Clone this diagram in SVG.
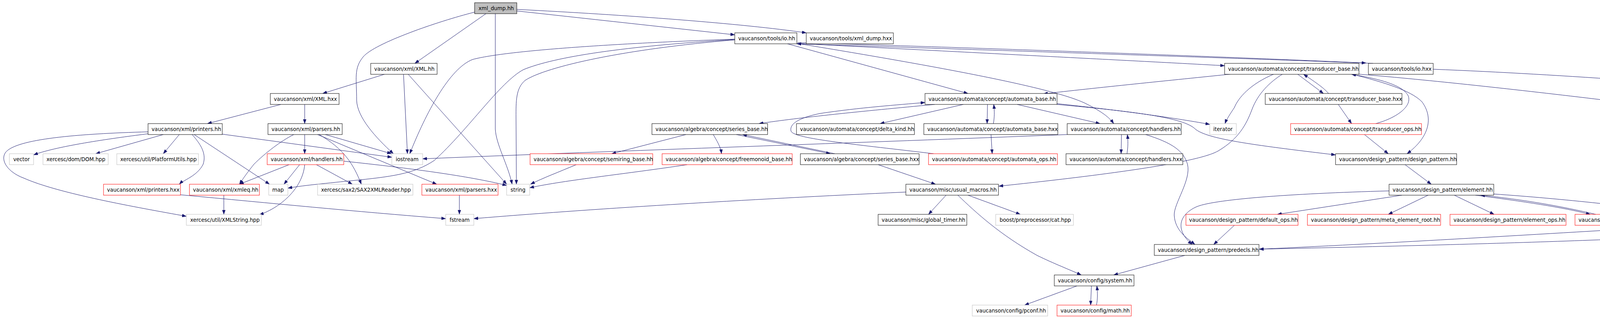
<svg xmlns="http://www.w3.org/2000/svg" width="4725" height="813" viewBox="0 0 4725 813">
<style>
rect{fill:#fff;stroke-width:1}
.n rect{stroke:#000}
.g rect{stroke:#bfbfbf}
.r rect{stroke:#ff0000}
.root rect{fill:#bfbfbf;stroke:#000}
text{font-family:"DejaVu Sans","Liberation Sans",sans-serif;font-size:13.3px;fill:#000}
#edges path{fill:none;stroke:#191970;stroke-width:1;marker-end:url(#ah)}
</style>
<defs>
<marker id="ah" markerUnits="userSpaceOnUse" markerWidth="11" markerHeight="8" refX="11" refY="4" orient="auto">
<path d="M0,0 L11,4 L0,8 z" fill="#191970" stroke="#191970" stroke-width="0.5"/>
</marker>
</defs>
<rect x="0" y="0" width="4725" height="813" style="fill:#fff;stroke:none"/>
<g id="edges">
<path d="M1215,31 C1120,55 960,110 930,145 C905,175 913,200 913,257 C915,300 960,350 1007,393"/>
<path d="M1244,35 L1062,162"/>
<path d="M1268,35 L1268,330 C1270,370 1300,420 1311,471"/>
<path d="M1323,28 L1881,89"/>
<path d="M1323,24 C1600,38 1900,60 2064,84"/>
<path d="M984,190 L826,239"/>
<path d="M1033,190 L1043,393"/>
<path d="M1045,190 L1297,471"/>
<path d="M719,267 L531,316"/>
<path d="M780,267 L780,316"/>
<path d="M379,342 C300,352 150,372 86,396"/>
<path d="M379,337 C200,342 40,355 14,390 C0,410 20,440 60,455 C150,495 350,530 477,553"/>
<path d="M418,344 L245,393"/>
<path d="M459,344 L418,393"/>
<path d="M492,344 C510,365 530,390 520,420 C505,450 470,460 459,471"/>
<path d="M497,344 L690,471"/>
<path d="M569,343 L1003,402"/>
<path d="M780,344 L780,393"/>
<path d="M752,344 C720,360 680,390 650,420 C630,445 620,460 613,471"/>
<path d="M833,344 L1002,393"/>
<path d="M817,344 C880,380 905,420 925,471"/>
<path d="M813,344 L1118,471"/>
<path d="M740,421 L613,471"/>
<path d="M767,421 L727,471"/>
<path d="M780,421 C775,480 720,530 664,549"/>
<path d="M810,421 L902,471"/>
<path d="M880,412 C1050,430 1200,450 1297,474"/>
<path d="M462,498 C700,520 900,540 1141,559"/>
<path d="M573,499 L573,548"/>
<path d="M1176,499 L1176,548"/>
<path d="M1881,100 C1600,110 1300,128 1210,152 C1150,175 1090,290 1049,393"/>
<path d="M1881,101 C1600,118 1420,145 1340,178 C1280,210 1200,330 1112,410 C1060,445 1000,452 900,462 C820,470 770,475 737,481"/>
<path d="M1881,102 C1600,125 1400,170 1345,205 C1320,225 1321,260 1321,300 L1322,471"/>
<path d="M2016,112 L2478,239"/>
<path d="M2053,113 C2400,170 2700,225 2780,265 C2820,285 2840,300 2851,316"/>
<path d="M2040,111 C2500,135 2900,155 3135,168"/>
<path d="M2042,109 C2600,125 3200,148 3497,161"/>
<path d="M3515,162 C3200,150 2600,130 2040,112"/>
<path d="M3669,177 C4000,190 4400,220 4646,245"/>
<path d="M3156,189 C3000,205 2800,225 2671,240"/>
<path d="M3321,189 L3388,239"/>
<path d="M3401,239 C3390,225 3360,205 3337,190"/>
<path d="M3262,189 C3200,215 3170,250 3160,275 C3150,290 3140,305 3136,316"/>
<path d="M3284,189 C3250,210 3220,240 3205,280 C3190,320 3170,355 3120,385 C3080,410 2900,440 2557,476"/>
<path d="M3463,190 C3540,210 3610,230 3640,260 C3670,300 3660,350 3602,393"/>
<path d="M3522,316 C3580,300 3615,270 3605,245 C3590,215 3520,200 3460,190"/>
<path d="M3470,189 C3800,215 4400,290 4580,318 C4600,322 4608,330 4608,340 L4608,513 C4608,560 4590,575 4548,588 C4300,610 3800,625 3224,637"/>
<path d="M3426,267 L3460,316"/>
<path d="M3493,344 L3554,393"/>
<path d="M3597,421 L3664,471"/>
<path d="M2393,267 C2200,285 2050,300 1943,316"/>
<path d="M2466,267 L2253,316"/>
<path d="M2528,267 L2527,316"/>
<path d="M2543,316 C2546,300 2546,285 2544,267"/>
<path d="M2604,267 L2816,316"/>
<path d="M2706,265 C2850,280 3000,300 3097,318"/>
<path d="M2706,267 C2900,285 3030,300 3060,330 C3090,355 3200,370 3419,396"/>
<path d="M2390,393 C2200,370 2030,355 2025,335 C2020,315 2050,300 2100,290 C2200,275 2300,268 2368,262"/>
<path d="M2537,344 L2540,393"/>
<path d="M2871,344 L2870,393"/>
<path d="M2885,393 C2888,375 2888,360 2886,344"/>
<path d="M2732,344 C2200,365 1600,385 1082,406"/>
<path d="M2933,344 C3000,365 3030,385 3040,420 C3050,460 3005,520 3006,550 C3008,590 3040,610 3059,625"/>
<path d="M3556,488 C3300,495 3100,510 3060,530 C3010,555 3015,595 3052,625"/>
<path d="M3160,576 L3107,625"/>
<path d="M4328,576 C4000,595 3600,620 3224,637"/>
<path d="M3589,499 L3270,548"/>
<path d="M3656,499 L3554,548"/>
<path d="M3723,499 L3825,548"/>
<path d="M3777,499 C3900,515 4000,530 4071,548"/>
<path d="M4085,548 C4000,528 3900,510 3790,499"/>
<path d="M3824,496 C4000,508 4200,530 4320,548"/>
<path d="M1756,344 L1566,393"/>
<path d="M1826,344 C1835,360 1845,375 1847,393"/>
<path d="M1885,344 L2126,393"/>
<path d="M2137,393 L1901,344"/>
<path d="M2248,421 L2395,471"/>
<path d="M1475,421 C1430,440 1390,455 1358,471"/>
<path d="M1759,421 C1600,445 1450,460 1356,480"/>
<path d="M2319,491 C1900,510 1500,535 1213,559"/>
<path d="M2422,499 L2377,548"/>
<path d="M2478,499 L2612,548"/>
<path d="M2452,499 C2500,545 2560,600 2655,653 C2700,675 2740,690 2768,703"/>
<path d="M3033,653 L2851,703"/>
<path d="M2757,731 L2623,780"/>
<path d="M2794,731 L2792,780"/>
<path d="M2807,780 C2810,765 2810,750 2808,731"/>
</g>
<g id="n0" class="root"><rect x="1215" y="7" width="108" height="28"/><text x="1225" y="26">xml_dump.hh</text></g>
<g id="n1" class="n"><rect x="1881" y="84" width="159" height="28"/><text x="1890" y="103">vaucanson/tools/io.hh</text></g>
<g id="n2" class="n"><rect x="2064" y="84" width="223" height="28"/><text x="2073" y="103">vaucanson/tools/xml_dump.hxx</text></g>
<g id="n3" class="n"><rect x="949" y="162" width="170" height="28"/><text x="958" y="181">vaucanson/xml/XML.hh</text></g>
<g id="n4" class="n"><rect x="3135" y="162" width="344" height="28"/><text x="3144" y="181">vaucanson/automata/concept/transducer_base.hh</text></g>
<g id="n5" class="n"><rect x="3503" y="162" width="166" height="28"/><text x="3512" y="181">vaucanson/tools/io.hxx</text></g>
<g id="n6" class="n"><rect x="692" y="239" width="176" height="28"/><text x="701" y="258">vaucanson/xml/XML.hxx</text></g>
<g id="n7" class="n"><rect x="2368" y="239" width="338" height="28"/><text x="2377" y="258">vaucanson/automata/concept/automata_base.hh</text></g>
<g id="n8" class="n"><rect x="3239" y="239" width="350" height="28"/><text x="3248" y="258">vaucanson/automata/concept/transducer_base.hxx</text></g>
<g id="n9" class="g"><rect x="4646" y="239" width="75" height="28"/><text x="4655" y="258">sstream</text></g>
<g id="n10" class="n"><rect x="379" y="316" width="190" height="28"/><text x="388" y="335">vaucanson/xml/printers.hh</text></g>
<g id="n11" class="n"><rect x="686" y="316" width="190" height="28"/><text x="695" y="335">vaucanson/xml/parsers.hh</text></g>
<g id="n12" class="n"><rect x="1669" y="316" width="296" height="28"/><text x="1678" y="335">vaucanson/algebra/concept/series_base.hh</text></g>
<g id="n13" class="n"><rect x="2039" y="316" width="302" height="28"/><text x="2048" y="335">vaucanson/automata/concept/delta_kind.hh</text></g>
<g id="n14" class="n"><rect x="2365" y="316" width="343" height="28"/><text x="2374" y="335">vaucanson/automata/concept/automata_base.hxx</text></g>
<g id="n15" class="n"><rect x="2732" y="316" width="292" height="28"/><text x="2741" y="335">vaucanson/automata/concept/handlers.hh</text></g>
<g id="n16" class="g"><rect x="3097" y="316" width="68" height="28"/><text x="3106" y="335">iterator</text></g>
<g id="n17" class="r"><rect x="3304" y="316" width="335" height="28"/><text x="3313" y="335">vaucanson/automata/concept/transducer_ops.hh</text></g>
<g id="n18" class="g"><rect x="24" y="393" width="62" height="28"/><text x="34" y="412">vector</text></g>
<g id="n19" class="g"><rect x="110" y="393" width="167" height="28"/><text x="119" y="412">xercesc/dom/DOM.hpp</text></g>
<g id="n20" class="g"><rect x="299" y="393" width="209" height="28"/><text x="308" y="412">xercesc/util/PlatformUtils.hpp</text></g>
<g id="n21" class="r"><rect x="684" y="393" width="196" height="28"/><text x="693" y="412">vaucanson/xml/handlers.hh</text></g>
<g id="n22" class="g"><rect x="1003" y="393" width="79" height="28"/><text x="1013" y="412">iostream</text></g>
<g id="n23" class="r"><rect x="1357" y="393" width="314" height="28"/><text x="1366" y="412">vaucanson/algebra/concept/semiring_base.hh</text></g>
<g id="n24" class="r"><rect x="1695" y="393" width="333" height="28"/><text x="1704" y="412">vaucanson/algebra/concept/freemonoid_base.hh</text></g>
<g id="n25" class="n"><rect x="2049" y="393" width="304" height="28"/><text x="2058" y="412">vaucanson/algebra/concept/series_base.hxx</text></g>
<g id="n26" class="r"><rect x="2377" y="393" width="330" height="28"/><text x="2386" y="412">vaucanson/automata/concept/automata_ops.hh</text></g>
<g id="n27" class="n"><rect x="2729" y="393" width="299" height="28"/><text x="2738" y="412">vaucanson/automata/concept/handlers.hxx</text></g>
<g id="n28" class="n"><rect x="3419" y="393" width="310" height="28"/><text x="3428" y="412">vaucanson/design_pattern/design_pattern.hh</text></g>
<g id="n29" class="r"><rect x="265" y="471" width="197" height="28"/><text x="274" y="490">vaucanson/xml/printers.hxx</text></g>
<g id="n30" class="r"><rect x="485" y="471" width="179" height="28"/><text x="494" y="490">vaucanson/xml/xmleq.hh</text></g>
<g id="n31" class="g"><rect x="688" y="471" width="49" height="28"/><text x="697" y="490">map</text></g>
<g id="n32" class="g"><rect x="813" y="471" width="244" height="28"/><text x="822" y="490">xercesc/sax2/SAX2XMLReader.hpp</text></g>
<g id="n33" class="r"><rect x="1080" y="471" width="195" height="28"/><text x="1089" y="490">vaucanson/xml/parsers.hxx</text></g>
<g id="n34" class="g"><rect x="1297" y="471" width="59" height="28"/><text x="1307" y="490">string</text></g>
<g id="n35" class="n"><rect x="2319" y="471" width="237" height="28"/><text x="2328" y="490">vaucanson/misc/usual_macros.hh</text></g>
<g id="n36" class="n"><rect x="3556" y="471" width="268" height="28"/><text x="3565" y="490">vaucanson/design_pattern/element.hh</text></g>
<g id="n37" class="g"><rect x="477" y="548" width="192" height="28"/><text x="487" y="567">xercesc/util/XMLString.hpp</text></g>
<g id="n38" class="g"><rect x="1141" y="548" width="72" height="28"/><text x="1151" y="567">fstream</text></g>
<g id="n39" class="n"><rect x="2248" y="548" width="227" height="28"/><text x="2257" y="567">vaucanson/misc/global_timer.hh</text></g>
<g id="n40" class="g"><rect x="2549" y="548" width="199" height="28"/><text x="2559" y="567">boost/preprocessor/cat.hpp</text></g>
<g id="n41" class="r"><rect x="3036" y="548" width="287" height="28"/><text x="3044" y="567">vaucanson/design_pattern/default_ops.hh</text></g>
<g id="n42" class="r"><rect x="3347" y="548" width="341" height="28"/><text x="3356" y="567">vaucanson/design_pattern/meta_element_root.hh</text></g>
<g id="n43" class="r"><rect x="3712" y="548" width="297" height="28"/><text x="3721" y="567">vaucanson/design_pattern/element_ops.hh</text></g>
<g id="n44" class="r"><rect x="4032" y="548" width="273" height="28"/><text x="4041" y="567">vaucanson/design_pattern/element.hxx</text></g>
<g id="n45" class="r"><rect x="4328" y="548" width="245" height="28"/><text x="4337" y="567">vaucanson/design_pattern/slots.hh</text></g>
<g id="n46" class="n"><rect x="2955" y="625" width="268" height="28"/><text x="2964" y="644">vaucanson/design_pattern/predecls.hh</text></g>
<g id="n47" class="n"><rect x="2699" y="703" width="204" height="28"/><text x="2708" y="722">vaucanson/config/system.hh</text></g>
<g id="n48" class="g"><rect x="2489" y="780" width="193" height="28"/><text x="2499" y="799">vaucanson/config/pconf.hh</text></g>
<g id="n49" class="r"><rect x="2706" y="780" width="190" height="28"/><text x="2715" y="799">vaucanson/config/math.hh</text></g>
</svg>
